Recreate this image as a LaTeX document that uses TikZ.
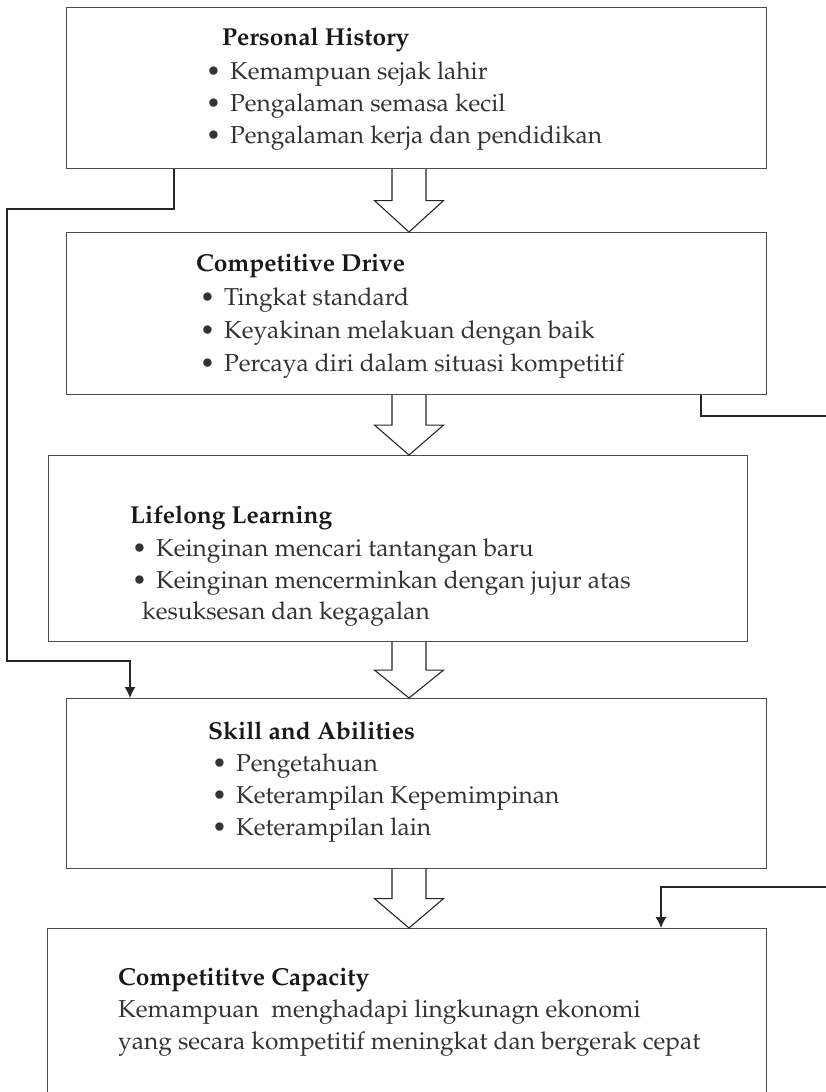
\documentclass[tikz,border=0pt]{standalone}
\usepackage[T1]{fontenc}
\usepackage{mathpazo}
\usetikzlibrary{arrows.meta, positioning, calc}

\newcommand{\hollowarrow}[2]{%
  \draw[bigarrow] let \p1=(#1.south -| ax), \p2=(#2.north -| ax) in
    (\x1-17pt,\y1) -- (\x1-17pt,{(\y1+\y2)/2}) -- (\x1-34.5pt,{(\y1+\y2)/2})
    -- (\p2) -- (\x1+34.5pt,{(\y1+\y2)/2}) -- (\x1+17pt,{(\y1+\y2)/2}) -- (\x1+17pt,\y1);}

\begin{document}
\begin{tikzpicture}[
  x=1pt, y=-1pt,
  box/.style={draw=black!70, line width=1.2pt, anchor=north west, inner sep=0pt},
  head/.style={anchor=base west, inner sep=0pt, text=black!90, font=\fontsize{24.5}{32}\selectfont\bfseries},
  item/.style={anchor=base west, inner sep=0pt, text=black!80, font=\fontsize{24.5}{32}\selectfont},
  conn/.style={draw=black!85, line width=1.1pt},
  tip/.style={-{Latex[length=11pt,width=11pt]}},
  bigarrow/.style={draw=black!85, line width=1.1pt, fill=white}]

  \useasboundingbox (0,0) rectangle (826,1092);

  % the five boxes
  \node[box, minimum width=700pt, minimum height=161pt] (ph) at (66,7) {};
  \node[box, minimum width=700pt, minimum height=162pt] (cd) at (66,232) {};
  \node[box, minimum width=699pt, minimum height=186pt] (ll) at (48,455) {};
  \node[box, minimum width=700pt, minimum height=170pt] (sa) at (66,698) {};
  \node[box, minimum width=719pt, minimum height=175pt] (cc) at (47,928) {};

  % texts
  \node[head] (phhead) at (222,45) {Personal History};
  \foreach \t [count=\i] in {Kemampuan sejak lahir, Pengalaman semasa kecil,
      Pengalaman kerja dan pendidikan}
    \node[item] (ph\i) at (206,{47+32*\i}) {\textbullet\hspace{9pt}\t};

  \node[head] (cdhead) at (196,271) {Competitive Drive};
  \foreach \t [count=\i] in {Tingkat standard, Keyakinan melakuan dengan baik,
      Percaya diri dalam situasi kompetitif}
    \node[item] (cd\i) at (200,{272+33*\i}) {\textbullet\hspace{9pt}\t};

  \node[head] (llhead) at (130,523) {Lifelong Learning};
  \node[item] (ll1) at (132,556) {\textbullet\hspace{9pt}Keinginan mencari tantangan baru};
  \node[item] (ll2) at (132,588) {\textbullet\hspace{9pt}Keinginan mencerminkan dengan jujur atas};
  \node[item] (ll3) at (142,619) {kesuksesan dan kegagalan};

  \node[head] (sahead) at (208,739) {Skill and Abilities};
  \foreach \t [count=\i] in {Pengetahuan, Keterampilan Kepemimpinan, Keterampilan lain}
    \node[item] (sa\i) at (212,{739+32*\i}) {\textbullet\hspace{9pt}\t};

  \node[head] (cchead) at (118,985) {Competititve Capacity};
  \node[item] (cc1) at (118,1017) {Kemampuan\ \ menghadapi lingkunagn ekonomi};
  \node[item] (cc2) at (118,1049) {yang secara kompetitif meningkat dan bergerak cepat};

  % hollow arrows down the middle
  \coordinate (ax) at (409,0);
  \hollowarrow{ph}{cd}
  \hollowarrow{cd}{ll}
  \hollowarrow{ll}{sa}
  \hollowarrow{sa}{cc}

  % side connectors
  \coordinate (lturn) at (7,209);
  \coordinate (lkink) at (130,661);
  \draw[conn, tip] ([xshift=108pt]ph.south west) |- (lturn) |- (lkink) -- (lkink |- sa.north);

  \coordinate (rend1) at (826,416);
  \draw[conn] ([xshift=635pt]cd.south west) |- (rend1);

  \coordinate (rend2) at (826,887);
  \coordinate (rkink) at (661,887);
  \draw[conn, tip] (rend2) -- (rkink) -- (rkink |- cc.north);
\end{tikzpicture}
\end{document}
